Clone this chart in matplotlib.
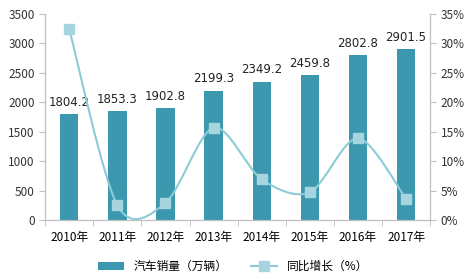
import numpy as np
import matplotlib.pyplot as plt
from matplotlib.path import Path
from matplotlib.patches import PathPatch
from matplotlib.lines import Line2D
from matplotlib.patches import Patch

plt.rcParams['font.family'] = ['Noto Sans CJK SC', 'DejaVu Sans']

years = ['2010年', '2011年', '2012年', '2013年', '2014年', '2015年', '2016年', '2017年']
sales = [1804.2, 1853.3, 1902.8, 2199.3, 2349.2, 2459.8, 2802.8, 2901.5]
growth = [32.4, 2.5, 2.9, 15.7, 6.9, 4.7, 13.9, 3.6]

BAR_COLOR = '#3c98ae'
LINE_COLOR = '#8ccbd8'
MARK_COLOR = '#a6d5e0'
AXIS_COLOR = '#bfbfbf'


def smooth_path(xs, ys, tension=0.15):
    # bezier path through the points, like a spreadsheet "smooth line"
    pts = np.column_stack([xs, ys]).astype(float)
    verts = [pts[0]]
    codes = [Path.MOVETO]
    n = len(pts)
    for i in range(n - 1):
        p0 = pts[max(i - 1, 0)]
        p1 = pts[i]
        p2 = pts[i + 1]
        p3 = pts[min(i + 2, n - 1)]
        c1 = p1 + (p2 - p0) * tension
        c2 = p2 - (p3 - p1) * tension
        verts += [c1, c2, p2]
        codes += [Path.CURVE4] * 3
    return Path(verts, codes)


fig = plt.figure(figsize=(4.66, 2.74), dpi=100)
ax = fig.add_axes([0.097, 0.197, 0.826, 0.752])
ax2 = ax.twinx()

x = np.arange(len(years))
ax.bar(x, sales, width=0.38, color=BAR_COLOR, zorder=2)
for xi, v in zip(x, sales):
    ax.text(xi, v + 90, f'{v:.1f}', ha='center', va='bottom', fontsize=8.5,
            color='#222222', family='DejaVu Sans')

ax.set_xlim(-0.5, len(years) - 0.5)
ax.set_ylim(0, 3500)
ax.set_yticks(np.arange(0, 3501, 500))
ax.set_xticks(x)
ax.set_xticklabels(years, fontsize=8.5)
ax.set_xticks(np.arange(-0.5, len(years)), minor=True)
ax.tick_params(axis='x', which='major', length=0, pad=8)
ax.tick_params(axis='x', which='minor', length=4, color=AXIS_COLOR)
ax.tick_params(axis='y', length=4, color=AXIS_COLOR, labelsize=8.5, labelcolor='#333333')

ax2.set_ylim(0, 35)
ax2.set_yticks(np.arange(0, 36, 5))
ax2.set_yticklabels([f'{v}%' for v in range(0, 36, 5)])
ax2.tick_params(axis='y', length=4, color=AXIS_COLOR, labelsize=8.5, labelcolor='#333333')

path = smooth_path(x, growth)
ax2.add_patch(PathPatch(path, facecolor='none', edgecolor=LINE_COLOR, lw=1.5, zorder=3))
ax2.plot(x, growth, linestyle='none', marker='s', markersize=7,
         color=MARK_COLOR, markeredgecolor=MARK_COLOR, zorder=4)

for a in (ax, ax2):
    a.spines['top'].set_visible(False)
    for s in ('left', 'right', 'bottom'):
        a.spines[s].set_color(AXIS_COLOR)
        a.spines[s].set_linewidth(0.8)

handles = [Patch(facecolor=BAR_COLOR, edgecolor='none'),
           Line2D([], [], color=LINE_COLOR, lw=1.5, marker='s', markersize=7,
                  markerfacecolor=MARK_COLOR, markeredgecolor=MARK_COLOR)]
fig.legend(handles, ['汽车销量（万辆）', '同比增长（%）'], loc='lower center',
           bbox_to_anchor=(0.5, -0.035), ncol=2, frameon=False, fontsize=8.5,
           handlelength=2.2, columnspacing=2.0, handleheight=0.6)

fig.savefig('out.png', dpi=100)
